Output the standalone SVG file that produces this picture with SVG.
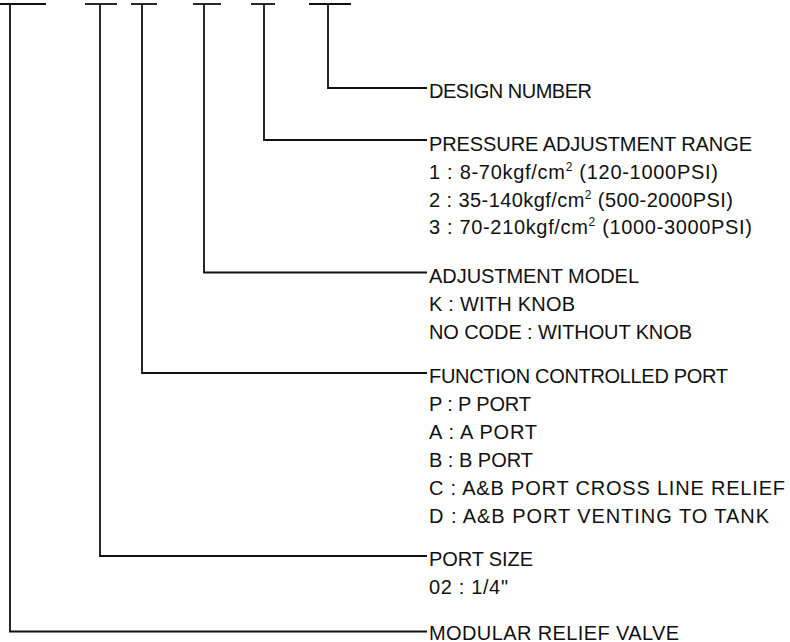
<svg xmlns="http://www.w3.org/2000/svg" width="790" height="642" viewBox="0 0 790 642">
<style>
.ln{fill:none;stroke:#111;stroke-width:1.8;stroke-linecap:butt;stroke-linejoin:miter}
text{font-family:"Liberation Sans",Arial,sans-serif;font-size:20px;fill:#111}
.sup{font-size:12px}
</style>
<rect width="790" height="642" fill="#fff"/>
<g id="code-blanks" class="ln">
<line x1="0" y1="4" x2="46" y2="4"/>
<line x1="85" y1="4" x2="117" y2="4"/>
<line x1="131" y1="4" x2="157" y2="4"/>
<line x1="193" y1="4" x2="221" y2="4"/>
<line x1="251" y1="4" x2="275" y2="4"/>
<line x1="309" y1="4" x2="351" y2="4"/>
</g>
<g id="connectors" class="ln">
<polyline points="328,4 328,88 427,88"/>
<polyline points="264,4 264,140 427,140"/>
<polyline points="204,4 204,272.5 427,272.5"/>
<polyline points="142,4 142,373 427,373"/>
<polyline points="100,4 100,556 427,556"/>
<polyline points="10,4 10,631.5 427,631.5"/>
</g>
<g id="design-number">
<text x="429" y="97.5" textLength="163">DESIGN NUMBER</text>
</g>
<g id="pressure-range">
<text x="429" y="151" textLength="323">PRESSURE ADJUSTMENT RANGE</text>
<text x="429" y="178.5" textLength="289">1 : 8-70kgf/cm<tspan class="sup" dy="-8">2</tspan><tspan dy="8"> (120-1000PSI)</tspan></text>
<text x="429" y="206.5" textLength="304">2 : 35-140kgf/cm<tspan class="sup" dy="-8">2</tspan><tspan dy="8"> (500-2000PSI)</tspan></text>
<text x="429" y="234" textLength="323">3 : 70-210kgf/cm<tspan class="sup" dy="-8">2</tspan><tspan dy="8"> (1000-3000PSI)</tspan></text>
</g>
<g id="adjustment-model">
<text x="429" y="282.5" textLength="210">ADJUSTMENT MODEL</text>
<text x="429" y="310.5" textLength="146">K : WITH KNOB</text>
<text x="429" y="338.5" textLength="263">NO CODE : WITHOUT KNOB</text>
</g>
<g id="function-port">
<text x="429" y="383" textLength="299">FUNCTION CONTROLLED PORT</text>
<text x="429" y="411" textLength="102">P : P PORT</text>
<text x="429" y="439" textLength="108">A : A PORT</text>
<text x="429" y="467" textLength="104">B : B PORT</text>
<text x="429" y="495" textLength="356">C : A&amp;B PORT CROSS LINE RELIEF</text>
<text x="429" y="522.5" textLength="340">D : A&amp;B PORT VENTING TO TANK</text>
</g>
<g id="port-size">
<text x="429" y="566" textLength="104">PORT SIZE</text>
<text x="429" y="594" textLength="79">02 : 1/4"</text>
</g>
<g id="modular-relief-valve">
<text x="429" y="639.5" textLength="250">MODULAR RELIEF VALVE</text>
</g>
</svg>
